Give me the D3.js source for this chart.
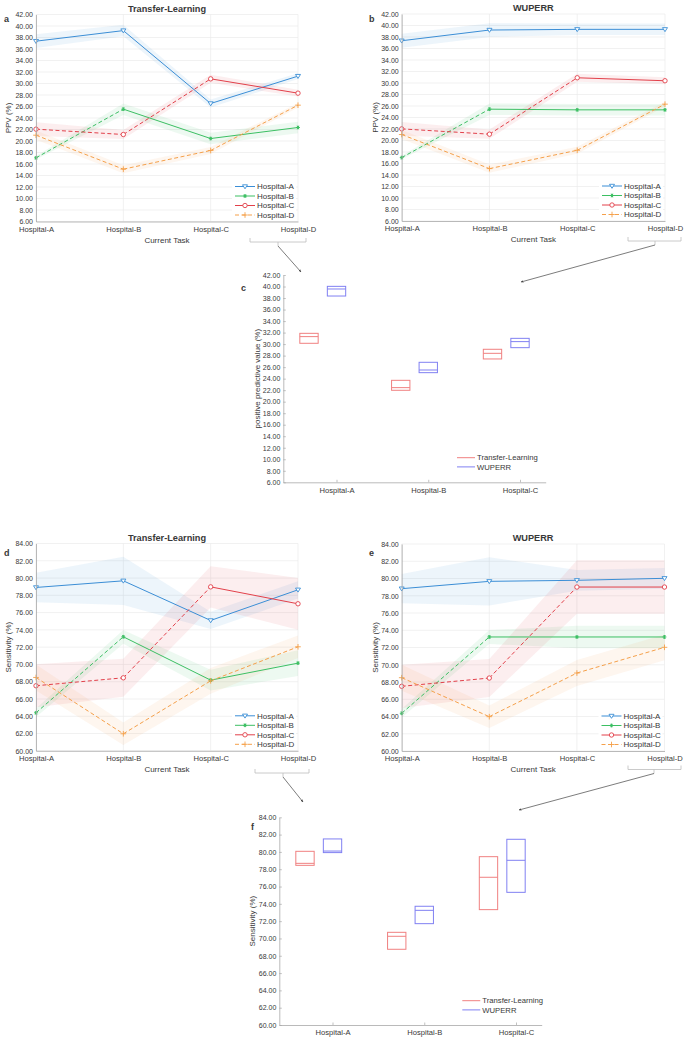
<!DOCTYPE html>
<html>
<head>
<meta charset="utf-8">
<script src="https://cdn.jsdelivr.net/npm/d3@7"></script>
<style>
  body { margin: 0; background: #fff; }
  svg text { font-family: "Liberation Sans", Arial, Helvetica, sans-serif; fill: #383838; }
</style>
</head>
<body>
<svg id="fig" width="685" height="1039"></svg>
<script>
// ---- data ----
var tasks = ["Hospital-A", "Hospital-B", "Hospital-C", "Hospital-D"];
var boxCats = ["Hospital-A", "Hospital-B", "Hospital-C"];
var methods = ["Transfer-Learning", "WUPERR"];

var ppvTicks = [6, 8, 10, 12, 14, 16, 18, 20, 22, 24, 26, 28, 30, 32, 34, 36, 38, 40, 42];
var sensTicks = [60, 62, 64, 66, 68, 70, 72, 74, 76, 78, 80, 82, 84];

// rows = Hospital-A..D series, columns = current task
var ppvTransferMean = [
  [37.36, 39.20, 26.52, 31.28],
  [17.07, 25.54, 20.43, 22.35],
  [22.06, 21.13, 30.81, 28.32],
  [21.01, 15.10, 18.35, 26.23]];
var ppvTransferStd = [
  [1.2, 1.0, 0.7, 0.5],
  [0.3, 1.0, 1.0, 1.0],
  [1.2, 0.8, 0.7, 0.6],
  [0.8, 0.7, 0.6, 0.4]];
var ppvWuperrMean = [
  [37.35, 39.21, 39.33, 39.33],
  [17.03, 25.45, 25.33, 25.33],
  [22.02, 21.10, 30.91, 30.39],
  [21.04, 15.11, 18.30, 26.32]];
var ppvWuperrStd = [
  [1.2, 1.2, 1.0, 1.0],
  [0.3, 1.0, 1.0, 1.0],
  [1.2, 0.8, 0.7, 0.6],
  [0.8, 0.7, 0.6, 0.4]];
var sensTransferMean = [
  [78.91, 79.68, 75.09, 78.64],
  [64.40, 73.20, 68.18, 70.15],
  [67.53, 68.45, 78.98, 77.02],
  [68.49, 61.97, 68.10, 72.04]];
var sensTransferStd = [
  [1.7, 2.8, 1.0, 1.0],
  [0.5, 0.8, 1.2, 1.5],
  [2.5, 2.2, 2.4, 3.0],
  [1.5, 1.3, 1.5, 1.3]];
var sensWuperrMean = [
  [78.82, 79.67, 79.79, 80.02],
  [64.37, 73.22, 73.22, 73.22],
  [67.50, 68.46, 79.01, 79.01],
  [68.50, 63.98, 69.04, 72.02]];
var sensWuperrStd = [
  [1.7, 2.8, 1.2, 1.2],
  [0.5, 0.8, 1.3, 1.3],
  [2.5, 2.2, 3.1, 3.1],
  [1.5, 1.3, 1.5, 1.5]];

// boxes: [q1, median, q3] for Hospital-A..C
var ppvBoxTransfer = [[30.14, 31.30, 31.87], [21.98, 22.44, 23.71], [27.42, 28.40, 29.10]];
var ppvBoxWuperr   = [[38.35, 39.57, 40.03], [25.04, 25.50, 26.84], [29.38, 30.43, 31.00]];
var sensBoxTransfer = [[78.45, 78.68, 80.07], [68.75, 70.25, 70.71], [73.33, 77.07, 79.45]];
var sensBoxWuperr   = [[79.92, 80.10, 81.50], [71.71, 73.25, 73.72], [75.33, 79.03, 81.46]];

// ---- styles ----
var colors = ["#3b8ed6", "#3cbf63", "#e2404a", "#f5a04a"];
var boxColors = ["#f08080", "#8080f2"];
var gridColor = "#ebebeb";
var axisColor = "#a8a8a8";

var svg = d3.select("#fig");

// arrow head for the connector lines
svg.append("defs").append("marker")
    .attr("id", "arr")
    .attr("viewBox", "0 0 10 10")
    .attr("refX", 9).attr("refY", 5)
    .attr("markerWidth", 4).attr("markerHeight", 4)
    .attr("orient", "auto")
  .append("path")
    .attr("d", "M0,1 L10,5 L0,9 z")
    .attr("fill", "#444");

function drawMarker(g, kind, cx, cy, color) {
  if (kind === 0) { // triangle down
    g.append("path")
      .attr("d", "M" + (cx - 2.5) + "," + (cy - 1.7) + " L" + (cx + 2.5) + "," + (cy - 1.7) + " L" + cx + "," + (cy + 2.3) + " Z")
      .attr("fill", "#fff").attr("stroke", color).attr("stroke-width", 0.9);
  } else if (kind === 1) { // asterisk
    var r = 1.9;
    var p = "";
    [0, 60, 120].forEach(function(a) {
      var rad = a * Math.PI / 180;
      p += "M" + (cx - r * Math.cos(rad)) + "," + (cy - r * Math.sin(rad)) +
           "L" + (cx + r * Math.cos(rad)) + "," + (cy + r * Math.sin(rad));
    });
    p += "M" + cx + "," + (cy - r) + "L" + cx + "," + (cy + r);
    g.append("path").attr("d", p).attr("stroke", color).attr("stroke-width", 1);
  } else if (kind === 2) { // circle
    g.append("circle").attr("cx", cx).attr("cy", cy).attr("r", 2.2)
      .attr("fill", "#fff").attr("stroke", color).attr("stroke-width", 0.9);
  } else { // plus
    g.append("path")
      .attr("d", "M" + (cx - 2.8) + "," + cy + "L" + (cx + 2.8) + "," + cy + "M" + cx + "," + (cy - 2.8) + "L" + cx + "," + (cy + 2.8))
      .attr("stroke", color).attr("stroke-width", 0.9);
  }
}

function styleAxis(a, size) {
  a.select(".domain").attr("stroke", axisColor).attr("stroke-width", 0.8);
  a.selectAll(".tick line").attr("stroke", axisColor).attr("stroke-width", 0.7);
  a.selectAll("text").attr("font-size", size).attr("fill", "#3a3a3a");
}

function linePanel(o) {
  var g = svg.append("g");
  var x = d3.scalePoint().domain(tasks).range([o.left, o.right]);
  var y = d3.scaleLinear().domain([o.ticks[0], o.ticks[o.ticks.length - 1]]).range([o.bottom, o.top]);

  // grid
  g.append("g").selectAll("line").data(o.ticks).enter().append("line")
    .attr("x1", o.left).attr("x2", o.right)
    .attr("y1", function(d) { return y(d); }).attr("y2", function(d) { return y(d); })
    .attr("stroke", gridColor).attr("stroke-width", 0.7);
  g.append("g").selectAll("line").data(tasks).enter().append("line")
    .attr("x1", function(d) { return x(d); }).attr("x2", function(d) { return x(d); })
    .attr("y1", o.top).attr("y2", o.bottom)
    .attr("stroke", gridColor).attr("stroke-width", 0.7);

  // std bands
  o.mean.forEach(function(row, i) {
    var area = d3.area()
      .x(function(d, j) { return x(tasks[j]); })
      .y0(function(d, j) { return y(d - o.std[i][j]); })
      .y1(function(d, j) { return y(d + o.std[i][j]); });
    g.append("path").attr("d", area(row))
      .attr("fill", colors[i]).attr("fill-opacity", 0.09).attr("stroke", "none");
  });

  // lines: dashed before the hospital's own task, solid afterwards
  o.mean.forEach(function(row, i) {
    for (var j = 0; j < row.length - 1; j++) {
      g.append("line")
        .attr("x1", x(tasks[j])).attr("y1", y(row[j]))
        .attr("x2", x(tasks[j + 1])).attr("y2", y(row[j + 1]))
        .attr("stroke", colors[i]).attr("stroke-width", 1)
        .attr("stroke-dasharray", j < i ? "4,2.5" : null);
    }
  });
  o.mean.forEach(function(row, i) {
    row.forEach(function(v, j) { drawMarker(g, i, x(tasks[j]), y(v), colors[i]); });
  });

  // axes
  var ya = g.append("g").attr("transform", "translate(" + o.left + ",0)")
    .call(d3.axisLeft(y).tickValues(o.ticks).tickFormat(d3.format(".2f")).tickSize(0).tickPadding(3));
  var xa = g.append("g").attr("transform", "translate(0," + o.bottom + ")")
    .call(d3.axisBottom(x).tickSize(0).tickPadding(5));
  styleAxis(ya, "7px");
  styleAxis(xa, "7.6px");

  g.append("text").attr("x", (o.left + o.right) / 2).attr("y", o.top - 3)
    .attr("text-anchor", "middle").attr("font-size", "9.2px").attr("font-weight", "bold")
    .attr("fill", "#111").text(o.title);
  g.append("text").attr("x", o.letterX).attr("y", o.letterY)
    .attr("font-size", "9px").attr("font-weight", "bold").attr("fill", "#111").text(o.letter);
  g.append("text").attr("x", (o.left + o.right) / 2).attr("y", o.bottom + 21)
    .attr("text-anchor", "middle").attr("font-size", "8px").text("Current Task");
  g.append("text")
    .attr("transform", "translate(" + o.ylabelX + "," + ((o.top + o.bottom) / 2) + ") rotate(-90)")
    .attr("text-anchor", "middle").attr("font-size", "8px").text(o.ylabel);

  // legend
  var lg = g.append("g");
  lg.append("rect").attr("x", o.right - 66).attr("y", o.bottom - 40)
    .attr("width", 64).attr("height", 38).attr("fill", "#fff");
  tasks.forEach(function(name, i) {
    var ry = o.bottom - 35 + i * 9.5;
    lg.append("line").attr("x1", o.right - 63).attr("x2", o.right - 43)
      .attr("y1", ry).attr("y2", ry)
      .attr("stroke", colors[i]).attr("stroke-width", 1)
      .attr("stroke-dasharray", i === 3 ? "4,2.5" : null);
    drawMarker(lg, i, o.right - 53, ry, colors[i]);
    lg.append("text").attr("x", o.right - 41).attr("y", ry + 2.8)
      .attr("font-size", "8px").attr("fill", "#222").text(name);
  });

  // bracket under Hospital-D and connector
  var b = o.bracket;
  g.append("path")
    .attr("d", "M" + b.x1 + "," + (b.y - 4) + "L" + b.x1 + "," + b.y + "L" + b.x2 + "," + b.y + "L" + b.x2 + "," + (b.y - 4) +
               "M" + b.cx + "," + b.y + "L" + b.cx + "," + (b.y + 4))
    .attr("fill", "none").attr("stroke", "#bdbdbd").attr("stroke-width", 0.8);
  g.append("line").attr("x1", b.cx).attr("y1", b.y + 4).attr("x2", b.tx).attr("y2", b.ty)
    .attr("stroke", "#444").attr("stroke-width", 0.7).attr("marker-end", "url(#arr)");
}

function boxPanel(o) {
  var g = svg.append("g");
  var x = d3.scaleLinear().domain([0.42, 3.28]).range([o.left, o.right]);
  var y = d3.scaleLinear().domain([o.ticks[0], o.ticks[o.ticks.length - 1]]).range([o.bottom, o.top]);
  var w = x(0.2) - x(0);

  [o.tl, o.wu].forEach(function(set, k) {
    var off = k === 0 ? -0.3 : 0;
    set.forEach(function(q, i) {
      var cx = x(i + 1 + off);
      g.append("rect").attr("x", cx - w / 2).attr("y", y(q[2]))
        .attr("width", w).attr("height", y(q[0]) - y(q[2]))
        .attr("fill", "none").attr("stroke", boxColors[k]).attr("stroke-width", 1);
      g.append("line").attr("x1", cx - w / 2).attr("x2", cx + w / 2)
        .attr("y1", y(q[1])).attr("y2", y(q[1]))
        .attr("stroke", boxColors[k]).attr("stroke-width", 1);
    });
  });

  var ya = g.append("g").attr("transform", "translate(" + o.left + ",0)")
    .call(d3.axisLeft(y).tickValues(o.ticks).tickFormat(d3.format(".2f"))
      .tickSizeInner(-2.5).tickSizeOuter(0).tickPadding(3));
  var xa = g.append("g").attr("transform", "translate(0," + o.bottom + ")")
    .call(d3.axisBottom(x).tickValues([1, 2, 3]).tickFormat(function(d, i) { return boxCats[i]; })
      .tickSizeInner(-2.5).tickSizeOuter(0).tickPadding(5));
  styleAxis(ya, "7px");
  styleAxis(xa, "7.6px");

  g.append("text").attr("x", o.letterX).attr("y", o.letterY)
    .attr("font-size", "9px").attr("font-weight", "bold").attr("fill", "#111").text(o.letter);
  g.append("text")
    .attr("transform", "translate(" + o.ylabelX + "," + ((o.top + o.bottom) / 2) + ") rotate(-90)")
    .attr("text-anchor", "middle").attr("font-size", "8px").text(o.ylabel);

  methods.forEach(function(m, k) {
    var ry = o.bottom + o.legendDy + k * 9.2;
    g.append("line").attr("x1", o.legendX - 20).attr("x2", o.legendX - 2)
      .attr("y1", ry).attr("y2", ry).attr("stroke", boxColors[k]).attr("stroke-width", 1);
    g.append("text").attr("x", o.legendX).attr("y", ry + 2.7)
      .attr("font-size", "7.7px").attr("fill", "#222").text(m);
  });
}

linePanel({ left: 36, right: 298, top: 14.5, bottom: 221.5, ticks: ppvTicks,
  mean: ppvTransferMean, std: ppvTransferStd, title: "Transfer-Learning",
  letter: "a", letterX: 4, letterY: 22, ylabel: "PPV (%)", ylabelX: 11,
  bracket: { x1: 250, x2: 306, y: 242, cx: 278, tx: 301, ty: 272 } });
linePanel({ left: 401.7, right: 665, top: 14, bottom: 221, ticks: ppvTicks,
  mean: ppvWuperrMean, std: ppvWuperrStd, title: "WUPERR",
  letter: "b", letterX: 369, letterY: 22, ylabel: "PPV (%)", ylabelX: 378,
  bracket: { x1: 628, x2: 681, y: 241, cx: 655, tx: 521, ty: 282 } });
boxPanel({ left: 283.3, right: 545.7, top: 275, bottom: 482.3, ticks: ppvTicks,
  tl: ppvBoxTransfer, wu: ppvBoxWuperr, letter: "c", letterX: 241, letterY: 290.5,
  ylabel: "positive predictive value (%)", ylabelX: 260, legendX: 477, legendDy: -24.6 });
linePanel({ left: 36, right: 298, top: 543.5, bottom: 750.8, ticks: sensTicks,
  mean: sensTransferMean, std: sensTransferStd, title: "Transfer-Learning",
  letter: "d", letterX: 4, letterY: 556, ylabel: "Sensitivity (%)", ylabelX: 11,
  bracket: { x1: 255, x2: 309, y: 773, cx: 283, tx: 303, ty: 802 } });
linePanel({ left: 401.7, right: 664.5, top: 544, bottom: 751, ticks: sensTicks,
  mean: sensWuperrMean, std: sensWuperrStd, title: "WUPERR",
  letter: "e", letterX: 369, letterY: 556, ylabel: "Sensitivity (%)", ylabelX: 378,
  bracket: { x1: 628, x2: 681, y: 769.5, cx: 654, tx: 519, ty: 810 } });
boxPanel({ left: 279.3, right: 541.7, top: 817.3, bottom: 1025, ticks: sensTicks,
  tl: sensBoxTransfer, wu: sensBoxWuperr, letter: "f", letterX: 251, letterY: 829.5,
  ylabel: "Sensitivity (%)", ylabelX: 255, legendX: 482.3, legendDy: -24.3 });
</script>
</body>
</html>
